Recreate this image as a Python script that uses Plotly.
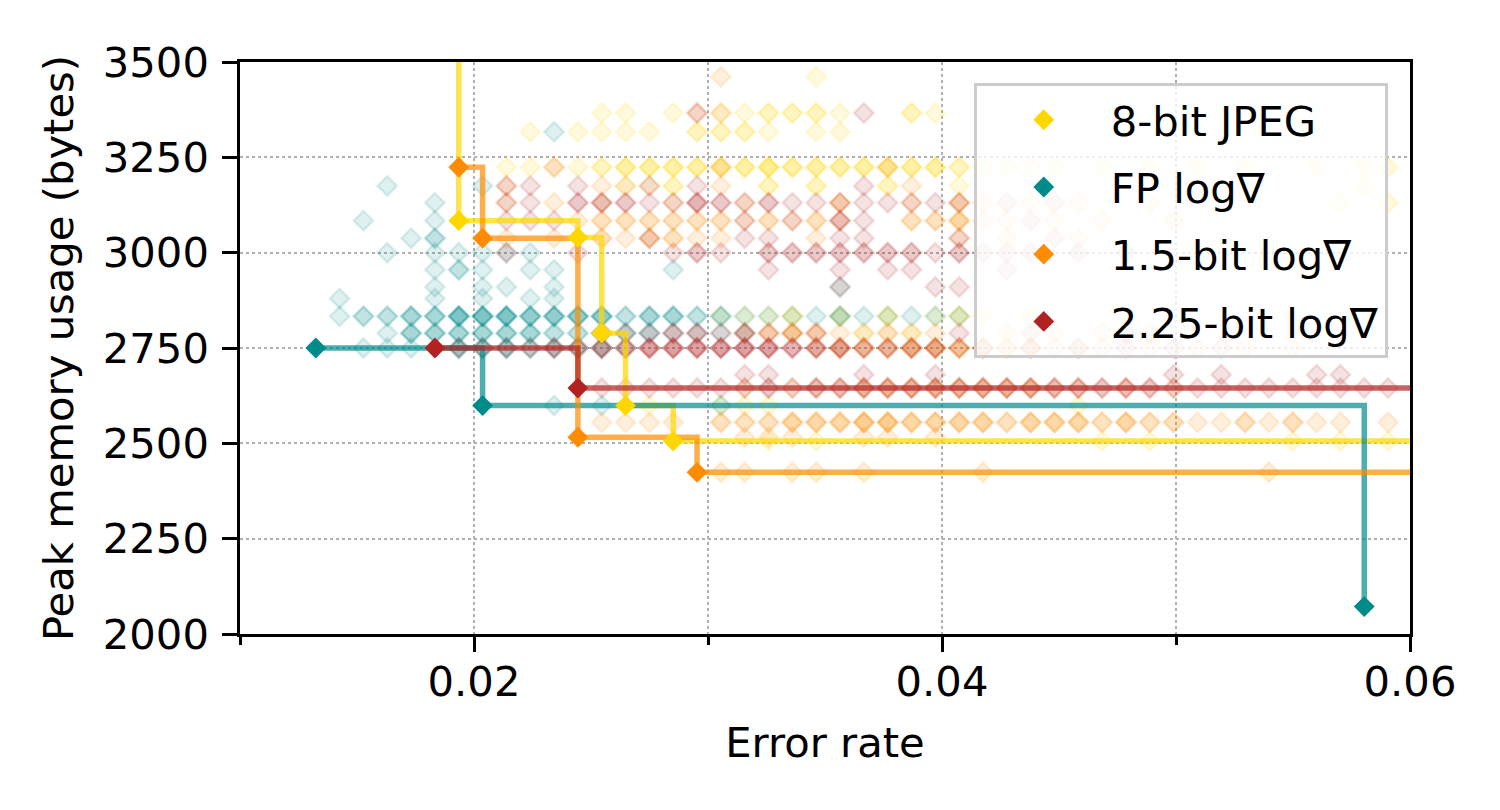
import plotly.graph_objects as go

# ---------------- data ----------------
N_TEST = 982  # test-set size: error rate = errors / N_TEST

SERIES = ["8-bit JPEG", "FP log∇", "1.5-bit log∇", "2.25-bit log∇"]
COLORS_RGB = [(255, 215, 0), (0, 139, 139), (255, 140, 0), (178, 34, 34)]

# Pareto fronts: number of test errors, peak memory (bytes)
PARETO_ERR_JPEG = [14, 19, 24, 25, 26, 28, 66]
PARETO_MEM_JPEG = [3900, 3084, 3040, 2789, 2599, 2506, 2300]
PARETO_ERR_FP = [13, 20, 57]
PARETO_MEM_FP = [2750, 2599, 2072]
PARETO_ERR_B15 = [19, 20, 24, 29, 66]
PARETO_MEM_B15 = [3224, 3038, 2516, 2424, 2300]
PARETO_ERR_B225 = [18, 24, 66]
PARETO_MEM_B225 = [2750, 2645, 2300]

# All evaluated configurations: memory level -> [(errors, how many configs)]
CLOUD_JPEG = {
    3461: [(34, 1)],
    3366: [(25, 1), (26, 1), (28, 1), (30, 1), (31, 1), (32, 2), (33, 2), (34, 2), (35, 1), (38, 2), (39, 1)],
    3317: [(22, 1), (24, 1), (25, 1), (26, 1), (27, 1), (29, 2), (30, 2), (31, 2), (32, 1), (34, 1), (35, 1)],
    3224: [(21, 1), (22, 1), (24, 1), (25, 2), (26, 3), (27, 3), (28, 3), (29, 3), (30, 3), (31, 3), (32, 4),
           (33, 3), (34, 3), (35, 3), (36, 3), (37, 3), (38, 3), (39, 3), (40, 2), (41, 1), (42, 1), (43, 1),
           (44, 1), (46, 1), (48, 1), (50, 1), (52, 1), (55, 1), (57, 1), (58, 1)],
    3175: [(26, 1), (27, 1), (28, 2), (32, 2), (34, 2), (37, 2), (40, 1), (57, 1)],
    3131: [(56, 1), (58, 1)],
    2833: [(30, 1), (31, 1), (32, 1), (33, 2), (35, 2), (37, 2), (39, 1), (40, 2), (41, 1), (43, 1)],
    2789: [(33, 1), (36, 1), (38, 1)],
    2599: [(27, 1), (30, 1), (31, 1), (32, 1), (45, 1)],
    2506: [(32, 1), (34, 1), (46, 1), (48, 1), (54, 1), (56, 1), (58, 1)],
}
CLOUD_FP = {
    3317: [(23, 1)],
    3175: [(16, 1), (20, 1)],
    3131: [(18, 1)],
    3084: [(15, 1), (18, 1)],
    3038: [(17, 1), (18, 2)],
    3000: [(16, 1), (18, 1), (19, 1), (20, 1), (21, 1), (22, 1)],
    2955: [(18, 1), (19, 2), (20, 1), (22, 1), (23, 1), (28, 1)],
    2910: [(18, 1), (20, 1), (21, 1), (23, 1), (35, 1)],
    2880: [(14, 1), (18, 1), (20, 1), (22, 1), (23, 1)],
    2833: [(14, 1), (15, 2), (16, 2), (17, 3), (18, 3), (19, 5), (20, 5), (21, 5), (22, 4), (23, 4), (24, 4),
           (25, 4), (26, 2), (27, 3), (28, 3), (29, 2), (30, 2), (31, 1), (32, 1), (33, 1), (34, 1), (35, 2),
           (36, 1), (37, 1), (38, 1), (39, 1), (40, 1)],
    2789: [(16, 1), (17, 3), (18, 3), (19, 3), (20, 3), (21, 3), (22, 3), (23, 2), (24, 2), (25, 2), (26, 2),
           (27, 2), (28, 1), (29, 1), (30, 1), (31, 1)],
    2750: [(15, 1), (16, 1), (17, 1), (19, 3), (20, 3), (21, 3), (22, 2), (23, 2), (24, 2), (25, 2), (26, 1)],
    2599: [(23, 1), (25, 1), (30, 1)],
}
CLOUD_B15 = {
    3461: [(30, 1)],
    3366: [(29, 1), (30, 1)],
    3224: [(23, 2), (30, 1), (37, 1)],
    3175: [(21, 1), (25, 1), (26, 1), (30, 1), (38, 1)],
    3131: [(21, 1), (23, 1), (25, 1), (28, 1), (31, 1), (35, 2), (38, 1), (40, 2), (41, 1), (43, 1), (45, 1),
           (48, 1)],
    3084: [(24, 1), (25, 2), (26, 2), (27, 2), (28, 2), (29, 2), (30, 2), (31, 1), (32, 2), (33, 1), (34, 2),
           (35, 1), (38, 2), (39, 2), (40, 3), (41, 1), (42, 1), (44, 1), (46, 1), (49, 1)],
    3038: [(21, 1), (23, 1), (25, 2), (26, 1), (27, 2), (28, 2), (29, 1), (30, 1), (34, 1), (40, 1), (42, 1),
           (45, 1)],
    2789: [(31, 1), (32, 2), (33, 2), (34, 2), (35, 1), (36, 1), (37, 2), (38, 1), (39, 1), (42, 1), (44, 1),
           (46, 1), (48, 1)],
    2750: [(34, 1), (35, 2), (36, 2), (37, 2), (38, 3), (39, 3), (40, 3), (41, 2), (42, 2), (43, 2), (44, 1),
           (45, 1), (46, 1), (48, 1), (50, 1), (52, 1), (54, 1)],
    2645: [(31, 1), (33, 1), (34, 1), (35, 1), (36, 2), (37, 2), (38, 2), (39, 2), (40, 2), (41, 2), (42, 2),
           (43, 2), (44, 1), (45, 1), (47, 1), (49, 1)],
    2555: [(25, 1), (26, 1), (27, 1), (28, 1), (30, 2), (31, 2), (32, 2), (33, 3), (34, 3), (35, 3), (36, 4),
           (37, 4), (38, 3), (39, 3), (40, 3), (41, 3), (42, 2), (43, 3), (44, 3), (45, 3), (46, 2), (47, 3),
           (48, 2), (49, 2), (50, 1), (51, 1), (52, 2), (53, 1), (54, 2), (55, 1), (56, 1), (58, 1)],
    2516: [(31, 1), (32, 1), (33, 1), (36, 1), (37, 1), (39, 1)],
    2424: [(30, 1), (31, 1), (33, 1), (34, 1), (36, 1), (41, 1), (53, 1)],
}
CLOUD_B225 = {
    3366: [(29, 1), (36, 1)],
    3175: [(21, 1), (22, 1), (24, 1), (27, 1), (29, 1), (36, 1)],
    3131: [(21, 1), (22, 1), (24, 2), (25, 2), (26, 2), (27, 1), (28, 1), (29, 3), (30, 2), (31, 1), (32, 2),
           (33, 1), (34, 1), (35, 1), (36, 1), (37, 1), (38, 1), (39, 1), (40, 1), (42, 1), (44, 1)],
    3084: [(21, 1), (22, 1), (23, 1), (31, 1), (33, 1), (35, 2), (36, 1), (43, 1)],
    3038: [(27, 1), (31, 1), (32, 1), (35, 1), (36, 1), (40, 1), (44, 1)],
    3000: [(21, 1), (24, 1), (28, 1), (29, 2), (30, 1), (32, 2), (33, 2), (34, 2), (35, 2), (36, 2), (37, 2),
           (38, 2), (39, 1), (40, 2), (41, 1), (42, 1), (43, 1), (45, 1), (47, 1)],
    2955: [(32, 1), (35, 1), (37, 1), (38, 1), (42, 1)],
    2910: [(35, 1), (39, 1), (40, 1)],
    2789: [(25, 1), (26, 1), (27, 1), (28, 2), (29, 2), (30, 1), (31, 2), (32, 1), (33, 1), (34, 1), (40, 1),
           (43, 1), (47, 1)],
    2750: [(19, 1), (20, 1), (21, 1), (22, 1), (23, 2), (24, 2), (25, 3), (26, 3), (27, 4), (28, 4), (29, 4),
           (30, 4), (31, 4), (32, 4), (33, 3), (34, 3), (35, 3), (36, 2), (37, 2), (38, 2), (39, 2), (40, 1),
           (41, 1), (43, 1), (45, 1), (47, 1), (49, 1), (51, 1)],
    2680: [(31, 1), (32, 1), (36, 1), (39, 1), (49, 1), (51, 1), (55, 1), (56, 1)],
    2645: [(25, 1), (26, 1), (27, 1), (28, 1), (29, 1), (30, 1), (31, 1), (32, 2), (33, 1), (34, 2), (35, 2),
           (36, 2), (37, 2), (38, 2), (39, 2), (40, 2), (41, 2), (42, 2), (43, 2), (44, 2), (45, 2), (46, 2),
           (47, 2), (48, 2), (49, 1), (50, 1), (51, 1), (52, 1), (53, 1), (54, 1), (55, 1), (56, 1), (57, 1),
           (58, 1)],
}

X_TICKS = [0.02, 0.04, 0.06]
X_TICK_TEXT = ["0.02", "0.04", "0.06"]
X_MINOR = [0.01, 0.03, 0.05]
Y_TICKS = [2000, 2250, 2500, 2750, 3000, 3250, 3500]

CLOUDS = [CLOUD_JPEG, CLOUD_FP, CLOUD_B15, CLOUD_B225]
PARETO = [(PARETO_ERR_JPEG, PARETO_MEM_JPEG), (PARETO_ERR_FP, PARETO_MEM_FP),
          (PARETO_ERR_B15, PARETO_MEM_B15), (PARETO_ERR_B225, PARETO_MEM_B225)]

# ---------------- figure ----------------
FONT = "DejaVu Sans"
FS = 41.7
BASE_ALPHA = 0.13
GRID = "#b0b0b0"


def rgba(c, a):
    return "rgba(%d,%d,%d,%.3f)" % (c[0], c[1], c[2], a)


fig = go.Figure()

# background clouds
for name, cloud, col in zip(SERIES, CLOUDS, COLORS_RGB):
    xs, ys, cs = [], [], []
    for mem, row in cloud.items():
        for err, cnt in row:
            xs.append(err / N_TEST)
            ys.append(mem)
            cs.append(rgba(col, 1 - (1 - BASE_ALPHA) ** cnt))
    fig.add_trace(go.Scatter(
        x=xs, y=ys, mode="markers", showlegend=False, hoverinfo="skip",
        marker=dict(symbol="diamond", size=15, color=cs, line=dict(color=cs, width=2.5)),
    ))

# pareto step lines
for name, (errs, mems), col in zip(SERIES, PARETO, COLORS_RGB):
    fig.add_trace(go.Scatter(
        x=[e / N_TEST for e in errs], y=mems, mode="lines", line_shape="hv",
        line=dict(color=rgba(col, 0.7), width=5.5), showlegend=False, hoverinfo="skip",
    ))

# pareto markers (legend)
for name, (errs, mems), col in zip(SERIES, PARETO, COLORS_RGB):
    fig.add_trace(go.Scatter(
        x=[e / N_TEST for e in errs], y=mems, mode="markers", name=name, legendgroup=name,
        marker=dict(symbol="diamond", size=16, color=rgba(col, 1.0), line=dict(width=0)),
    ))

axis_common = dict(
    showline=True, mirror=True, linecolor="black", linewidth=3.3,
    ticks="outside", ticklen=14.6, tickwidth=3.3, tickcolor="black",
    showgrid=True, gridcolor=GRID, gridwidth=1.5, griddash="dot",
    zeroline=False, tickfont=dict(family=FONT, size=FS, color="black"),
)

# the page body has an 8px margin; margins below compensate for it
fig.update_layout(
    width=1500, height=810,
    margin=dict(l=232, r=98, t=54, b=184),
    paper_bgcolor="white", plot_bgcolor="white",
    font=dict(family=FONT, size=FS, color="black"),
    xaxis=dict(
        range=[0.01, 0.06], tickvals=X_TICKS, ticktext=X_TICK_TEXT,
        ticklabelstandoff=-6,
        title=dict(text="Error rate", font=dict(family=FONT, size=FS), standoff=24),
        minor=dict(tickvals=X_MINOR, ticks="outside", ticklen=8.3, tickwidth=2.5, tickcolor="black",
                   showgrid=True, gridcolor=GRID, gridwidth=1.5, griddash="dot"),
        **axis_common,
    ),
    yaxis=dict(
        range=[2000, 3500], tickvals=Y_TICKS, ticklabelstandoff=5,
        title=dict(text="Peak memory usage (bytes)", font=dict(family=FONT, size=FS), standoff=17),
        **axis_common,
    ),
    legend=dict(
        x=0.981, y=0.963, xanchor="right", yanchor="top",
        bgcolor="rgba(255,255,255,0.8)", bordercolor="#cccccc", borderwidth=3,
        font=dict(family=FONT, size=FS, color="black"), itemwidth=124, tracegroupgap=10,
    ),
)

fig.write_html("out.html")
